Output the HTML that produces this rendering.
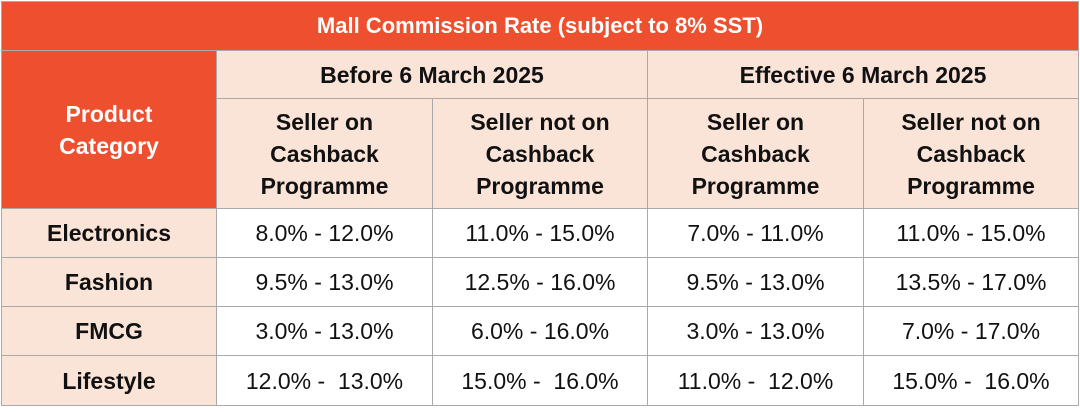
<!DOCTYPE html>
<html><head><meta charset="utf-8"><style>
body{margin:0;width:1080px;height:412px;background:#fff;font-family:"Liberation Sans",sans-serif;position:relative;overflow:hidden}
.c{position:absolute;box-sizing:border-box;display:flex;align-items:center;justify-content:center;text-align:center;border:1px solid #a9a9a9;line-height:32px}
.o{background:#EE4F2F;color:#fff;font-weight:bold}
.p{background:#FAE3D7;color:#111;font-weight:bold;font-size:23px}
.w{background:#fff;color:#111;font-size:23px}
</style></head><body>
<div id="t"></div>
<script>
const cols=[1,216,432,647,863,1078];
const rows=[1,50,98,208,257,306,355,405];
const categories=["Electronics","Fashion","FMCG","Lifestyle"];
const beforeCashback=["8.0% - 12.0%","9.5% - 13.0%","3.0% - 13.0%","12.0% -  13.0%"];
const beforeNoCashback=["11.0% - 15.0%","12.5% - 16.0%","6.0% - 16.0%","15.0% -  16.0%"];
const effCashback=["7.0% - 11.0%","9.5% - 13.0%","3.0% - 13.0%","11.0% -  12.0%"];
const effNoCashback=["11.0% - 15.0%","13.5% - 17.0%","7.0% - 17.0%","15.0% -  16.0%"];
const t=document.getElementById('t');
function cell(c0,c1,r0,r1,cls,html,name,extra){
 const d=document.createElement('div');
 d.className='c '+cls;
 d.style.left=cols[c0]+'px';d.style.width=(cols[c1]-cols[c0]+1)+'px';
 d.style.top=rows[r0]+'px';d.style.height=(rows[r1]-rows[r0]+1)+'px';
 if(extra)d.style.cssText+=extra;
 d.innerHTML=html;
 
 
 t.appendChild(d);
}
cell(0,5,0,1,'o','Mall Commission Rate (subject to 8% SST)','table-title','font-size:22px');
cell(0,1,1,3,'o','Product<br>Category','product-category-header','font-size:23px');
cell(1,3,1,2,'p','Before 6 March 2025','before-period-header');
cell(3,5,1,2,'p','Effective 6 March 2025','effective-period-header');
const sub=['Seller on<br>Cashback<br>Programme','Seller not on<br>Cashback<br>Programme'];
for(let i=0;i<4;i++)cell(i+1,i+2,2,3,'p',sub[i%2],i%2?'seller-not-on-cashback-header':'seller-on-cashback-header');
const series=[beforeCashback,beforeNoCashback,effCashback,effNoCashback];
categories.forEach((cat,r)=>{
 cell(0,1,r+3,r+4,'p',cat,'category-'+cat.toLowerCase());
 series.forEach((s,k)=>cell(k+1,k+2,r+3,r+4,'w',s[r].replace(/ /g,'&nbsp;'),'rate-cell'));
});
</script>
</body></html>
